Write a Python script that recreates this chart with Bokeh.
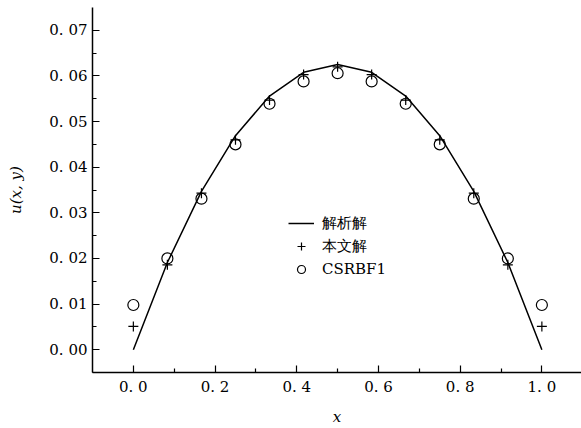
from bokeh.plotting import figure
from bokeh.models import FixedTicker, Legend, LegendItem, Range1d
from bokeh.embed import file_html
from bokeh.resources import INLINE

# ---- data ----
x_vals = [0.0, 0.0833, 0.1667, 0.25, 0.3333, 0.4167, 0.5,
          0.5833, 0.6667, 0.75, 0.8333, 0.9167, 1.0]
u_exact = [0.0, 0.0191, 0.0347, 0.0469, 0.0556, 0.0608, 0.0625,
           0.0608, 0.0556, 0.0469, 0.0347, 0.0191, 0.0]
u_paper = [0.0051, 0.0186, 0.0343, 0.0460, 0.0547, 0.0603, 0.0620,
           0.0603, 0.0547, 0.0460, 0.0343, 0.0186, 0.0051]
u_csrbf1 = [0.0098, 0.0200, 0.0331, 0.0450, 0.0539, 0.0588, 0.0606,
            0.0588, 0.0539, 0.0450, 0.0331, 0.0200, 0.0098]

x_ticks = [0.0, 0.2, 0.4, 0.6, 0.8, 1.0]
x_tick_labels = ["0. 0", "0. 2", "0. 4", "0. 6", "0. 8", "1. 0"]
x_minor = [0.1, 0.3, 0.5, 0.7, 0.9]
y_ticks = [0.0, 0.01, 0.02, 0.03, 0.04, 0.05, 0.06, 0.07]
y_tick_labels = ["0. 00", "0. 01", "0. 02", "0. 03", "0. 04", "0. 05", "0. 06", "0. 07"]
y_minor = [-0.005, 0.005, 0.015, 0.025, 0.035, 0.045, 0.055, 0.065]

legend_labels = ["解析解", "本文解", "CSRBF1"]

FONT = "DejaVu Serif"

p = figure(width=581, height=428, output_backend="svg", toolbar_location=None,
           x_range=Range1d(-0.1, 1.097), y_range=Range1d(-0.005, 0.075),
           min_border_left=92, min_border_right=0, min_border_top=7,
           min_border_bottom=56)
p.outline_line_color = None
p.grid.visible = False
p.background_fill_color = "white"
p.border_fill_color = "white"

r_line = p.line(x_vals, u_exact, line_color="black", line_width=1.5)
r_plus = p.scatter(x_vals, u_paper, marker="cross", size=10,
                   line_color="black", line_width=1.2)
r_circ = p.scatter(x_vals, u_csrbf1, marker="circle", size=11,
                   fill_color=None, line_color="black", line_width=1.2)

for ax, ticks, labels, minor in ((p.xaxis[0], x_ticks, x_tick_labels, x_minor),
                                  (p.yaxis[0], y_ticks, y_tick_labels, y_minor)):
    ax.ticker = FixedTicker(ticks=ticks, minor_ticks=minor)
    ax.major_label_overrides = {t: l for t, l in zip(ticks, labels)}
    ax.axis_line_width = 1.5
    ax.axis_line_color = "black"
    ax.major_tick_in = 7
    ax.major_tick_out = 0
    ax.minor_tick_in = 4
    ax.minor_tick_out = 0
    ax.major_tick_line_width = 1.2
    ax.minor_tick_line_width = 1.2
    ax.major_tick_line_color = "black"
    ax.minor_tick_line_color = "black"
    ax.major_label_text_font = FONT
    ax.major_label_text_font_size = "15px"
    ax.major_label_text_color = "black"
    ax.axis_label_text_font = FONT
    ax.axis_label_text_font_size = "15px"
    ax.axis_label_text_font_style = "italic"
    ax.axis_label_text_color = "black"

p.xaxis.axis_label = "x"
p.yaxis.axis_label = "u(x, y)"
p.xaxis.major_label_standoff = 5
p.yaxis.major_label_standoff = 5
p.xaxis.axis_label_standoff = 9
p.yaxis.axis_label_standoff = 21

legend = Legend(items=[LegendItem(label=legend_labels[0], renderers=[r_line]),
                       LegendItem(label=legend_labels[1], renderers=[r_plus]),
                       LegendItem(label=legend_labels[2], renderers=[r_circ])],
                location=(196, 93))
legend.border_line_color = None
legend.background_fill_alpha = 0
legend.padding = 0
legend.margin = 0
legend.spacing = 3
legend.glyph_width = 26
legend.glyph_height = 20
legend.label_standoff = 8
legend.label_text_font = FONT
legend.label_text_font_size = "15px"
legend.label_text_color = "black"
p.add_layout(legend, "center")

open("out.html", "w").write(file_html(p, INLINE))
